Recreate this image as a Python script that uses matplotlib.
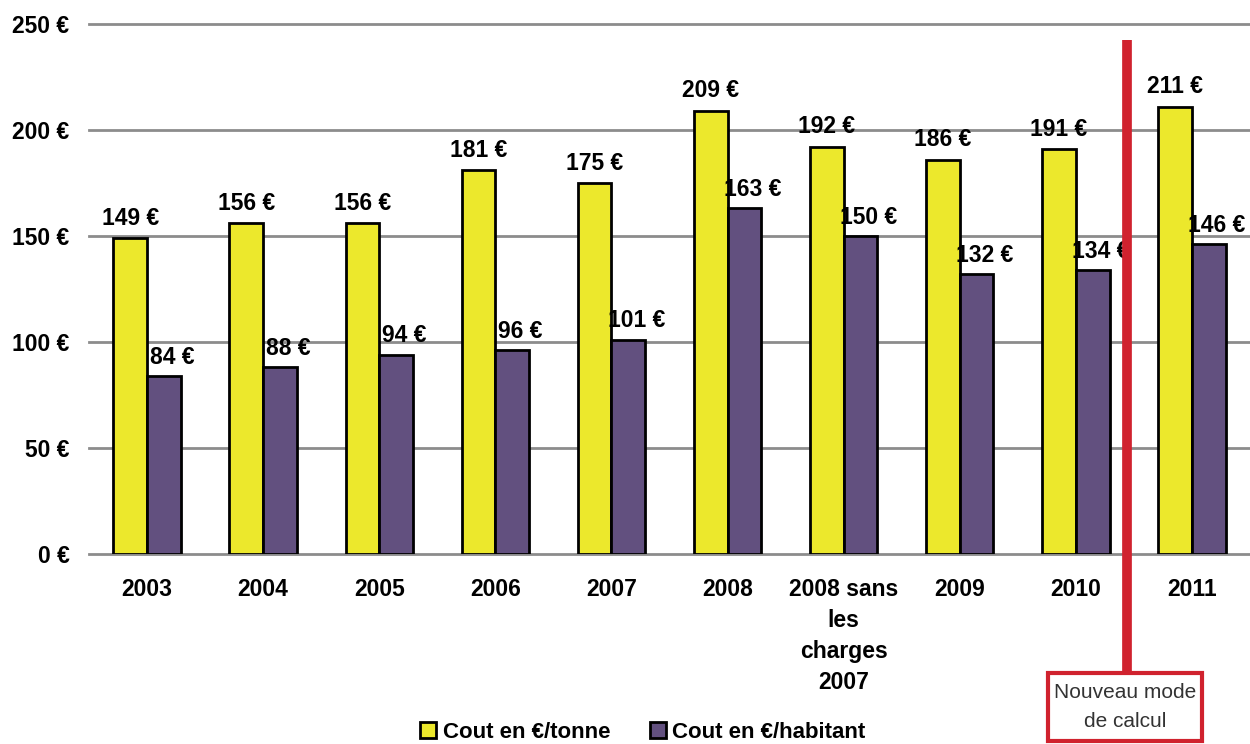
import matplotlib.pyplot as plt
import numpy as np
from matplotlib.patches import Patch, Rectangle

categories = ["2003", "2004", "2005", "2006", "2007", "2008",
              "2008 sans\nles\ncharges\n2007", "2009", "2010", "2011"]
cout_tonne = [149, 156, 156, 181, 175, 209, 192, 186, 191, 211]
cout_habitant = [84, 88, 94, 96, 101, 163, 150, 132, 134, 146]
y_ticks = [0, 50, 100, 150, 200, 250]

yellow = "#ECE82C"
purple = "#62507F"
red = "#D0222E"

plt.rcParams["font.family"] = ["Liberation Sans", "DejaVu Sans"]

fig = plt.figure(figsize=(12.5, 7.44), dpi=100)
ax = fig.add_axes([89 / 1250, 190 / 744, 1161 / 1250, 530 / 744])

x = np.arange(len(categories))
w = 0.29
ax.bar(x - w / 2, cout_tonne, w, color=yellow, edgecolor="black", linewidth=2, zorder=3)
ax.bar(x + w / 2, cout_habitant, w, color=purple, edgecolor="black", linewidth=2, zorder=3)

for i in range(len(categories)):
    ax.text(x[i] - w / 2, cout_tonne[i] + 4, f"{cout_tonne[i]} €", ha="center", va="bottom",
            fontsize=16.5, fontweight="bold", zorder=4)
    ax.text(x[i] + w / 2 + 0.07, cout_habitant[i] + 3.5, f"{cout_habitant[i]} €", ha="center", va="bottom",
            fontsize=16.5, fontweight="bold", zorder=4)

ax.set_xlim(-0.5, len(categories) - 0.5)
ax.set_ylim(0, 250)
ax.set_yticks(y_ticks)
ax.set_yticklabels([f"{v} €" for v in y_ticks])
ax.set_xticks(x)
ax.set_xticklabels(categories, linespacing=1.45)
ax.tick_params(axis="both", length=0, labelsize=16.5)
ax.tick_params(axis="y", pad=14)
ax.tick_params(axis="x", pad=17)
for lab in ax.get_xticklabels() + ax.get_yticklabels():
    lab.set_fontweight("bold")

ax.yaxis.grid(True, color="#8C8C8C", linewidth=2)
ax.set_axisbelow(True)
for gl in ax.get_ygridlines():
    gl.set_clip_on(False)
for s in ax.spines.values():
    s.set_visible(False)

# separator for the new calculation method
divider = 8.44
ax.plot([divider, divider], [242.5, -55.7], color=red, linewidth=7, clip_on=False, zorder=5,
        solid_capstyle="butt")
fig.patches.append(Rectangle((1048 / 1250, 3 / 744), 154 / 1250, 68 / 744, transform=fig.transFigure,
                             facecolor="white", edgecolor=red, linewidth=3, zorder=6))
fig.text(1125 / 1250, 37 / 744, "Nouveau mode\nde calcul", ha="center", va="center",
         fontsize=15, color="#333333", linespacing=1.7, zorder=7)

handles = [Patch(facecolor=yellow, edgecolor="black", linewidth=2, label="Cout en €/tonne"),
           Patch(facecolor=purple, edgecolor="black", linewidth=2, label="Cout en €/habitant")]
fig.legend(handles=handles, loc="center", bbox_to_anchor=(643 / 1250, 12 / 744), ncol=2, frameon=False,
           prop=dict(size=16, weight="bold"), handlelength=0.7, handleheight=0.7,
           handletextpad=0.3, columnspacing=1.8)

fig.savefig("out.png", dpi=100)
